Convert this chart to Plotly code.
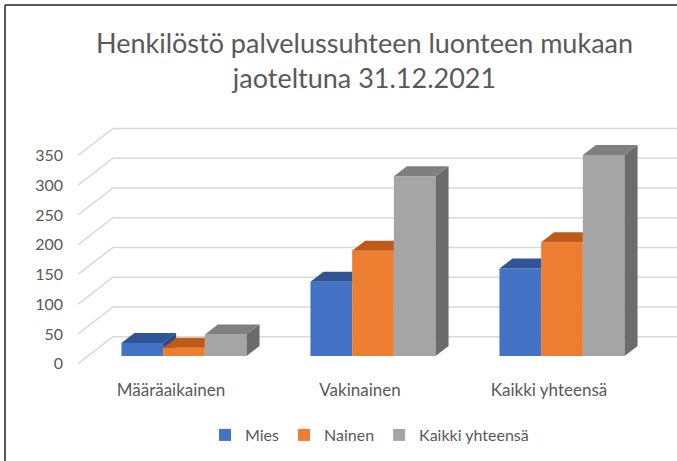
import plotly.graph_objects as go

# ---------------- data ----------------
categories = ["Määräaikainen", "Vakinainen", "Kaikki yhteensä"]
series_names = ["Mies", "Nainen", "Kaikki yhteensä"]
mies = [22, 125, 147]
nainen = [14, 177, 191]
kaikki = [36, 302, 338]
y_ticks = [0, 50, 100, 150, 200, 250, 300, 350]
title_lines = ["Henkilöstö palvelussuhteen luonteen mukaan", "jaoteltuna 31.12.2021"]

series = [mies, nainen, kaikki]

# ---------------- style ----------------
front_colors = ["#4472C4", "#ED7D31", "#A5A5A5"]
top_colors = ["#2F5597", "#BF5A18", "#7F7F7F"]
side_colors = ["#29498A", "#A94F14", "#6B6B6B"]
text_color = "#595959"
grid_color = "#D9D9D9"
FONT = "Lato"

W, H = 677, 461
L, R, T, B = 78, 677, 110, 370          # plot area in px
PX_X = 189.0                             # px per category step
X0_PX = 184.0                            # px of first category centre
PX_Y = 0.595                             # px per value unit
Y0_PX = 356.0                            # px of value 0 at bar fronts

x_range = [(L - X0_PX) / PX_X, (R - X0_PX) / PX_X]
y_range = [(Y0_PX - B) / PX_Y, (Y0_PX - T) / PX_Y]

bar_w = 41.7 / PX_X
ddx = 13.0 / PX_X        # bar depth (x)
ddy = 10.0 / PX_Y        # bar depth (y)
wall_dx = 35.0 / PX_X    # front edge -> back wall
wall_dy = 27.0 / PX_Y
front_shift = (363.7 - Y0_PX) / PX_Y
back_shift = wall_dy - front_shift
label_shift = 13.0 / PX_X

fig = go.Figure()

# front faces
for i, name in enumerate(series_names):
    fig.add_trace(go.Bar(
        x=list(range(len(categories))), y=series[i], name=name,
        marker=dict(color=front_colors[i], line=dict(width=0)),
        hoverinfo="skip",
    ))


def clip_above(poly, h):
    """Keep part of polygon with y >= h."""
    out = []
    n = len(poly)
    for j in range(n):
        p, q = poly[j], poly[(j + 1) % n]
        pin, qin = p[1] >= h, q[1] >= h
        if pin:
            out.append(p)
        if pin != qin:
            t = (h - p[1]) / (q[1] - p[1])
            out.append((p[0] + t * (q[0] - p[0]), h))
    return out


def add_poly(pts, color):
    if len(pts) < 3:
        return
    xs = [p[0] for p in pts] + [pts[0][0]]
    ys = [p[1] for p in pts] + [pts[0][1]]
    fig.add_trace(go.Scatter(
        x=xs, y=ys, mode="lines", fill="toself", fillcolor=color,
        line=dict(width=0, color=color), hoverinfo="skip", showlegend=False,
    ))


n_s = len(series)
for k in range(len(categories)):
    for i in range(n_s):
        v = series[i][k]
        xl = k + (i - (n_s - 1) / 2) * bar_w - bar_w / 2
        xr = xl + bar_w
        h = series[i + 1][k] if i < n_s - 1 else -1e9
        hh = min(max(h, v), v + ddy)
        top = [(xl, v), (xr, v), (xr, hh), (xr + ddx * (hh - v) / ddy, hh),
               (xr + ddx, v + ddy), (xl + ddx, v + ddy)]
        add_poly(top, top_colors[i])
        side = [(xr, 0), (xr, v), (xr + ddx, v + ddy), (xr + ddx, ddy)]
        side = clip_above(side, max(h, 0))
        add_poly(side, side_colors[i])

# back wall gridlines with perspective diagonals
shapes = []
for v in y_ticks:
    x_front = x_range[0]
    x_back = x_range[0] + wall_dx
    shapes.append(dict(
        type="path", xref="x", yref="y", layer="below",
        path=f"M {x_front},{v - front_shift} L {x_back},{v + back_shift} L {x_range[1]},{v + back_shift}",
        line=dict(color=grid_color, width=1.6),
    ))


def px2paper_x(px):
    return (px - L) / (R - L)


def px2paper_y(py):
    return (B - py) / (B - T)


# chart frame (left and top)
shapes.append(dict(type="line", xref="paper", yref="paper",
                   x0=px2paper_x(5), x1=px2paper_x(5), y0=px2paper_y(5), y1=px2paper_y(470),
                   line=dict(color="#5A5A5A", width=2)))
shapes.append(dict(type="line", xref="paper", yref="paper",
                   x0=px2paper_x(5), x1=px2paper_x(690), y0=px2paper_y(5), y1=px2paper_y(5),
                   line=dict(color="#5A5A5A", width=2)))

fig.update_layout(
    width=W, height=H,
    margin=dict(l=L, r=W - R, t=T, b=H - B, pad=0),
    paper_bgcolor="white", plot_bgcolor="white",
    barmode="group", bargap=1 - n_s * bar_w, bargroupgap=0,
    font=dict(family=FONT, color=text_color, size=16),
    title=dict(
        text="<br>".join(title_lines),
        x=364.5 / W, xanchor="center", y=1 - 53 / H, yanchor="middle",
        font=dict(family=FONT, size=27, color=text_color),
    ),
    legend=dict(
        orientation="h", x=px2paper_x(369.5), xanchor="center",
        y=px2paper_y(435), yanchor="middle",
        font=dict(family=FONT, size=16, color=text_color),
        bgcolor="rgba(0,0,0,0)",
    ),
    xaxis=dict(
        range=x_range, showgrid=False, zeroline=False, showline=False, ticks="",
        tickvals=[k - label_shift for k in range(len(categories))], ticktext=categories,
        tickfont=dict(family=FONT, size=17, color=text_color), ticklabelstandoff=8,
    ),
    yaxis=dict(
        range=y_range, showgrid=False, zeroline=False, showline=False, ticks="",
        tickvals=[v - front_shift for v in y_ticks], ticktext=[str(v) for v in y_ticks],
        tickfont=dict(family=FONT, size=16, color=text_color), ticklabelstandoff=14,
    ),
    shapes=shapes,
)

fig.write_html(
    "out.html",
    config={"displayModeBar": False},
    post_script="document.body.style.margin='0';document.body.style.overflow='hidden';",
)
